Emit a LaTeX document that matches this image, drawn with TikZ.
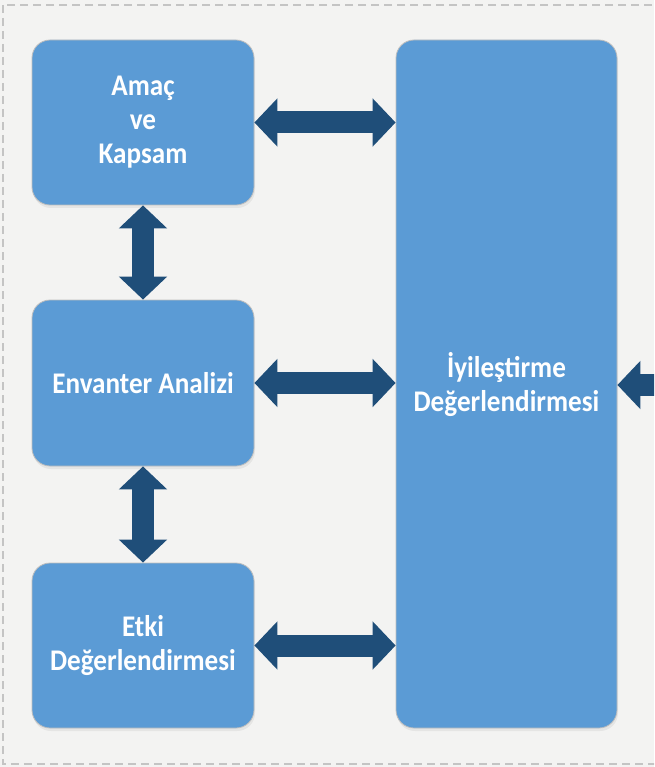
\documentclass[tikz,border=0pt]{standalone}
\usepackage{fontspec}
\newfontfamily\boxfont{Carlito}[FakeStretch=0.905]
\usepackage{xcolor}
\usepackage{tikz}
\usetikzlibrary{arrows.meta, shapes, positioning, calc, shadows}
\definecolor{boxblue}{RGB}{91,155,213}
\definecolor{boxedge}{RGB}{190,190,190}
\definecolor{arrowblue}{RGB}{31,78,121}
\definecolor{pagegray}{RGB}{243,243,242}
\definecolor{dashgray}{RGB}{196,196,196}
\tikzstyle{stage} = [rectangle, rounded corners=18pt, fill=boxblue, draw=boxedge, line width=0.8pt,
  text=white, align=center, font=\boxfont\bfseries\fontsize{30}{34}\selectfont,
  drop shadow={opacity=0.12, shadow xshift=1pt, shadow yshift=-3pt}]
\tikzstyle{linkarrow} = [draw=arrowblue, line width=22pt,
  {Triangle[length=23pt,width=47pt]}-{Triangle[length=23pt,width=47pt]}]
\tikzstyle{sidearrow} = [draw=arrowblue, line width=22pt, -{Triangle[length=23pt,width=47pt]}]

\begin{document}
\begin{tikzpicture}[x=1pt, y=-1pt]
        \useasboundingbox (0,0) rectangle (654,767);
        \clip (0,0) rectangle (654,767);
        \fill[pagegray] (0,0) rectangle (654,767);
        \draw[dashgray, line width=1.4pt, dash pattern=on 8pt off 5pt] (3,5) rectangle (680,764);

        % left column
        \node[stage, minimum width=222pt, minimum height=165pt] (amac) at (143,122.5) {Amaç\\ve\\Kapsam};
        \node[stage, minimum width=222pt, minimum height=166pt] (envanter) at (143,383) {Envanter Analizi};
        \node[stage, minimum width=222pt, minimum height=165pt] (etki) at (143,645.5) {Etki\\Değerlendirmesi};

        % right column
        \node[stage, minimum width=221pt, minimum height=688pt] (iyi) at (506.5,384) {İyileştirme\\Değerlendirmesi};

        \draw[linkarrow] (amac.south) -- (envanter.north);
        \draw[linkarrow] (envanter.south) -- (etki.north);
        \draw[linkarrow] (amac.east) -- (amac.east -| iyi.west);
        \draw[linkarrow] (envanter.east) -- (envanter.east -| iyi.west);
        \draw[linkarrow] (etki.east) -- (etki.east -| iyi.west);

        \coordinate (outside) at (700,385);
        \draw[sidearrow] (outside) -- (outside -| iyi.east);
        \end{tikzpicture}
\end{document}
